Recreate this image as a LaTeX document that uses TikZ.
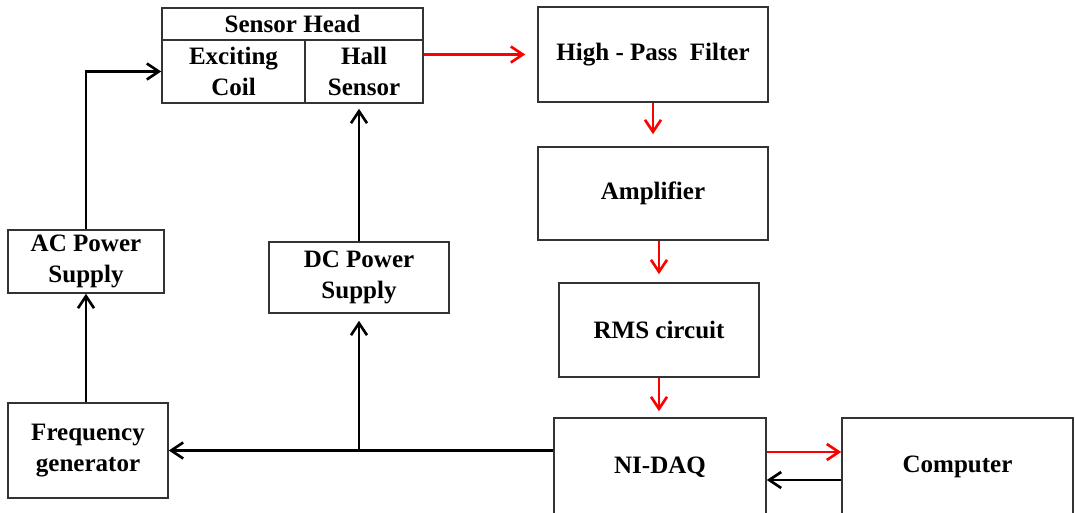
\documentclass[tikz,border=0pt]{standalone}
\usepackage{fontspec}
\setmainfont{Liberation Serif}
\usetikzlibrary{arrows.meta}

\tikzset{
  block/.style={draw=black!80, line width=1.1pt, font=\fontsize{17.8}{22}\selectfont\bfseries, align=center, inner sep=0pt},
  link/.style={line width=1.9pt, -{Straight Barb[length=3mm,width=4mm]}},
  sig/.style={link, red},
}

\begin{document}
\begin{tikzpicture}[x=0.025cm,y=-0.025cm]
  \useasboundingbox (0,0) rectangle (1075,512);
  % sensor head
  \node[block, minimum width=6.525cm, minimum height=0.8cm] (head) at (292.5,24) {Sensor Head};
  \node[block, minimum width=3.575cm, minimum height=1.575cm] (coil) at (233.5,71.5) {Exciting\\Coil};
  \node[block, minimum width=2.95cm, minimum height=1.575cm] (hall) at (364,71.5) {Hall\\Sensor};
  % signal chain
  \node[block, minimum width=5.75cm, minimum height=2.375cm] (hpf) at (653,54.5) {High - Pass~~Filter};
  \node[block, minimum width=5.75cm, minimum height=2.325cm] (amp) at (653,193.5) {Amplifier};
  \node[block, minimum width=5cm, minimum height=2.35cm] (rms) at (659,330) {RMS circuit};
  \node[block, minimum width=5.3cm, minimum height=2.45cm] (daq) at (660,467) {NI-DAQ};
  \node[block, minimum width=5.775cm, minimum height=2.45cm] (comp) at (957.5,467) {Computer};
  % supplies
  \node[block, minimum width=3.9cm, minimum height=1.575cm] (ac) at (86,261.5) {AC Power\\Supply};
  \node[block, minimum width=4.5cm, minimum height=1.775cm] (dc) at (359,277.5) {DC Power\\Supply};
  \node[block, minimum width=4cm, minimum height=2.375cm] (freq) at (88,450.5) {Frequency\\generator};

  % red signal path
  \draw[sig, shorten >=0.3cm] (hpf.west -| hall.east) -- (hpf.west);
  \draw[sig, shorten >=0.3cm] (hpf.south) -- (amp.north);
  \draw[sig, shorten >=0.2cm] (rms.north |- amp.south) -- (rms.north);
  \draw[sig, shorten >=0.15cm] (rms.south) -- (rms.south |- daq.north);
  \draw[sig] ([yshift=0.375cm]daq.east) -- ([yshift=0.375cm]comp.west);
  \draw[link] ([yshift=-0.325cm]comp.west) -- ([yshift=-0.325cm]daq.east);

  % excitation and supply
  \coordinate (tap) at (dc.south |- freq.east);
  \draw[link] (freq.east -| daq.west) -- (freq.east);
  \draw[link, shorten >=0.175cm] (tap) -- (dc.south);
  \draw[link] (ac.south |- freq.north) -- (ac.south);
  \draw[link] (ac.north) |- (coil.west);
  \draw[link, shorten >=0.125cm] (dc.north) -- (dc.north |- hall.south);
\end{tikzpicture}
\end{document}
